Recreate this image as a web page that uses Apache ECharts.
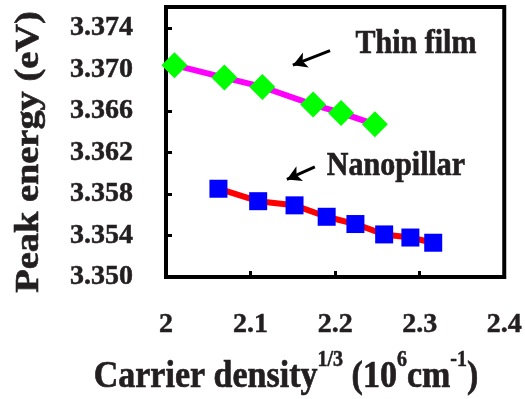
<!DOCTYPE html>
<html>
<head>
<meta charset="utf-8">
<script src="https://cdn.jsdelivr.net/npm/echarts@6/dist/echarts.min.js"></script>
<style>
  html, body { margin: 0; padding: 0; background: #fff; }
  #chart { width: 525px; height: 399px; }
</style>
</head>
<body>
<div id="chart"></div>
<script>
var thinX = [2.010, 2.069, 2.114, 2.174, 2.207, 2.247];
var thinY = [3.3704, 3.3692, 3.3683, 3.3666, 3.3658, 3.3647];
var nanoX = [2.062, 2.109, 2.152, 2.190, 2.224, 2.258, 2.289, 2.316];
var nanoY = [3.3585, 3.3573, 3.3569, 3.3558, 3.3551, 3.3541, 3.3538, 3.3533];

function pairs(xs, ys) {
    return xs.map(function (x, i) { return [x, ys[i]]; });
}

var font = '"Liberation Serif", "Times New Roman", serif';
var ink = '#231f20';
var chart = echarts.init(document.getElementById('chart'));

var arrowStyle = { color: '#000', width: 3, type: 'solid' };

function label(txt, x, y, size, extra) {
    var el = {
        type: 'text', x: x, y: y, scaleY: 1.12,
        style: {
            text: txt, fontFamily: font, fontWeight: 'bold', fontSize: size,
            fill: ink, stroke: ink, lineWidth: 0.6,
            align: 'center', verticalAlign: 'middle'
        }
    };
    for (var k in extra) el[k] = extra[k];
    return el;
}

option = {
    animation: false,
    grid: {
        left: 166, right: 20, top: 7, bottom: 122,
        show: true,
        borderColor: '#000',
        borderWidth: 4
    },
    xAxis: {
        type: 'value',
        min: 2, max: 2.4, interval: 0.1,
        axisLine: { show: true, lineStyle: { color: '#000', width: 4 } },
        axisTick: { show: true, inside: true, length: 6, lineStyle: { color: '#000', width: 3 } },
        splitLine: { show: false },
        axisLabel: {
            margin: 34, color: ink, fontFamily: font, fontWeight: 'bold', fontSize: 28,
            textBorderColor: ink, textBorderWidth: 0.5,
            formatter: function (v) { return String(+v.toFixed(1)); }
        }
    },
    yAxis: {
        type: 'value',
        min: 3.350, max: 3.376, interval: 0.004,
        axisLine: { show: true, lineStyle: { color: '#000', width: 4 } },
        axisTick: { show: true, inside: true, length: 6, lineStyle: { color: '#000', width: 3 } },
        splitLine: { show: false },
        axisLabel: {
            margin: 33, color: ink, fontFamily: font, fontWeight: 'bold', fontSize: 28,
            textBorderColor: ink, textBorderWidth: 0.5,
            formatter: function (v) { return v.toFixed(3); }
        }
    },
    series: [
        {
            name: 'Thin film',
            type: 'line',
            data: pairs(thinX, thinY),
            symbol: 'diamond',
            symbolSize: 26,
            lineStyle: { color: '#ff00ff', width: 6 },
            itemStyle: { color: '#00ff00' },
            z: 3,
            markLine: {
                silent: true,
                symbol: ['none', 'arrow'],
                symbolSize: [12, 14],
                label: { show: false },
                lineStyle: arrowStyle,
                data: [[{ coord: [2.194, 3.3718] }, { coord: [2.150, 3.3704] }]]
            }
        },
        {
            name: 'Nanopillar',
            type: 'line',
            data: pairs(nanoX, nanoY),
            symbol: 'rect',
            symbolSize: 18,
            lineStyle: { color: '#ff0000', width: 6 },
            itemStyle: { color: '#0000ff' },
            z: 3,
            markLine: {
                silent: true,
                symbol: ['none', 'arrow'],
                symbolSize: [12, 14],
                label: { show: false },
                lineStyle: arrowStyle,
                data: [[{ coord: [2.176, 3.3606] }, { coord: [2.143, 3.3594] }]]
            }
        }
    ],
    graphic: [
        label('Thin film', 416, 44, 30),
        label('Nanopillar', 396, 166, 30),
        label('Peak energy (eV)', 29, 152, 34, { rotation: Math.PI / 2, scaleY: 1, scaleX: 1.13 }),
        {
            type: 'text', x: 286, y: 377, scaleY: 1.12,
            style: {
                text: '{t|Carrier density}{s|1/3}{t| (10}{s|6}{t|cm}{s|-1}{t|)}',
                align: 'center', verticalAlign: 'middle',
                rich: {
                    t: { fontFamily: font, fontWeight: 'bold', fontSize: 34, fill: ink, stroke: ink, lineWidth: 0.6 },
                    s: { fontFamily: font, fontWeight: 'bold', fontSize: 20, fill: ink, stroke: ink, lineWidth: 0.5,
                         verticalAlign: 'top', padding: [0, 0, 30, 0] }
                }
            }
        }
    ]
};
chart.setOption(option);
</script>
</body>
</html>
